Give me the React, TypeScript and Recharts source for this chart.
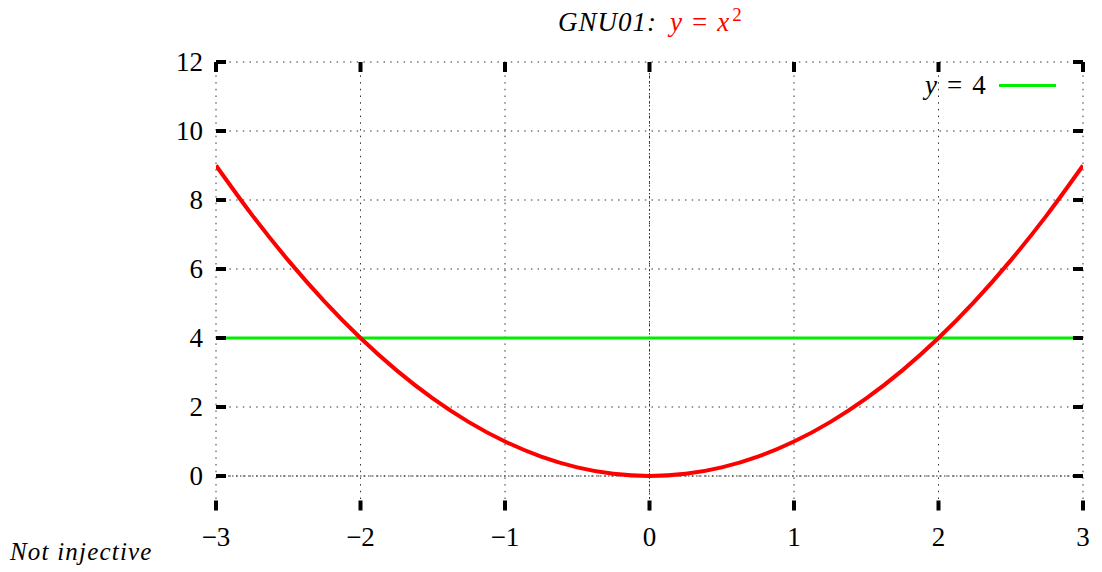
import {
  CartesianGrid,
  Line,
  LineChart,
  ReferenceLine,
  XAxis,
  YAxis,
} from "recharts";

// tick positions
const xTicks = [-3, -2, -1, 0, 1, 2, 3];
const yTicks = [0, 2, 4, 6, 8, 10, 12];

// y = x^2 sampled every quarter step
const curveX = [
  -3, -2.75, -2.5, -2.25, -2, -1.75, -1.5, -1.25, -1, -0.75, -0.5, -0.25, 0,
  0.25, 0.5, 0.75, 1, 1.25, 1.5, 1.75, 2, 2.25, 2.5, 2.75, 3,
];
const curveY = [
  9, 7.5625, 6.25, 5.0625, 4, 3.0625, 2.25, 1.5625, 1, 0.5625, 0.25, 0.0625, 0,
  0.0625, 0.25, 0.5625, 1, 1.5625, 2.25, 3.0625, 4, 5.0625, 6.25, 7.5625, 9,
];

// horizontal level y = 4
const levelX = [-3, 3];
const levelY = [4, 4];

const W = 1102;
const H = 572;
const AXIS_W = 216;
const AXIS_H = 61.5;
const MARGIN = { top: 62, right: 19, left: 0, bottom: 0 };
const PLOT_LEFT = AXIS_W;
const PLOT_RIGHT = W - MARGIN.right;
const PLOT_TOP = MARGIN.top;
const PLOT_BOTTOM = H - AXIS_H;
const TICK_LEN = 10;
const TICK_W = 4;

const RED = "#ff0000";
const GREEN = "#00ee00";
const FONT = "'Liberation Serif', 'DejaVu Serif', serif";

const curveData = curveX.map((x, i) => ({ x, y: curveY[i] }));
const levelData = levelX.map((x, i) => ({ x, y: levelY[i] }));

const fmt = (v: number) => (v < 0 ? `\u2212${-v}` : `${v}`);

const YTick = (props: any) => {
  const { y, payload } = props;
  return (
    <g>
      <rect x={PLOT_LEFT} y={y - TICK_W / 2} width={TICK_LEN} height={TICK_W} fill="#000" />
      <rect x={PLOT_RIGHT - TICK_LEN} y={y - TICK_W / 2} width={TICK_LEN} height={TICK_W} fill="#000" />
      <text x={203} y={y} textAnchor="end" dominantBaseline="central" fontFamily={FONT} fontSize={27} fill="#000">
        {fmt(payload.value)}
      </text>
    </g>
  );
};

const XTick = (props: any) => {
  const { x, payload } = props;
  return (
    <g>
      <rect x={x - TICK_W / 2} y={PLOT_BOTTOM - TICK_LEN} width={TICK_W} height={TICK_LEN} fill="#000" />
      <rect x={x - TICK_W / 2} y={PLOT_TOP} width={TICK_W} height={TICK_LEN} fill="#000" />
      <text x={x} y={537} textAnchor="middle" dominantBaseline="central" fontFamily={FONT} fontSize={27} fill="#000">
        {fmt(payload.value)}
      </text>
    </g>
  );
};

export default function App() {
  return (
    <div style={{ position: "absolute", left: 0, top: 0, width: W, height: H, background: "#fff" }}>
      <div
        style={{
          position: "absolute",
          top: -1,
          left: 558,
          fontFamily: FONT,
          fontSize: 27,
          whiteSpace: "nowrap",
          lineHeight: "32px",
        }}
      >
        <i style={{ letterSpacing: 1 }}>GNU01:</i>
        <span style={{ color: RED, marginLeft: 13 }}>
          <i>y</i>
          <span style={{ margin: "0 10px" }}>=</span>
          <i>x</i>
          <sup style={{ fontSize: 19, marginLeft: 3 }}>2</sup>
        </span>
      </div>
      <LineChart width={W} height={H} margin={MARGIN}>
        <CartesianGrid
          stroke="#333"
          strokeDasharray="1.5 5.2"
          strokeWidth={1}
          horizontalValues={yTicks}
          verticalValues={xTicks}
        />
        <ReferenceLine y={0} stroke="#333" strokeDasharray="1.5 2.5" />
        <ReferenceLine x={0} stroke="#333" strokeDasharray="1.5 2.5" />
        <XAxis
          dataKey="x"
          type="number"
          domain={[-3, 3]}
          ticks={xTicks}
          height={AXIS_H}
          axisLine={false}
          tickLine={false}
          tick={<XTick />}
          allowDataOverflow
        />
        <YAxis
          type="number"
          domain={[-1, 12]}
          ticks={yTicks}
          width={AXIS_W}
          axisLine={false}
          tickLine={false}
          tick={<YTick />}
          allowDataOverflow
        />
        <Line
          data={levelData}
          dataKey="y"
          stroke={GREEN}
          strokeWidth={3}
          dot={false}
          isAnimationActive={false}
        />
        <Line
          data={curveData}
          dataKey="y"
          type="monotone"
          stroke={RED}
          strokeWidth={4}
          dot={false}
          isAnimationActive={false}
        />
      </LineChart>
      {/* key for the level line */}
      <div
        style={{
          position: "absolute",
          left: 925,
          top: 70,
          display: "flex",
          alignItems: "center",
          fontFamily: FONT,
          fontSize: 27,
          lineHeight: "30px",
          whiteSpace: "nowrap",
        }}
      >
        <i>y</i>
        <span style={{ margin: "0 10px" }}>=</span>
        <span>4</span>
        <span style={{ display: "inline-block", width: 57, height: 3, background: GREEN, marginLeft: 13 }} />
      </div>
      <div
        style={{
          position: "absolute",
          left: 10,
          top: 536,
          fontFamily: FONT,
          fontSize: 25,
          letterSpacing: 1.2,
          fontStyle: "italic",
          whiteSpace: "nowrap",
          lineHeight: "32px",
        }}
      >
        Not injective
      </div>
    </div>
  );
}
